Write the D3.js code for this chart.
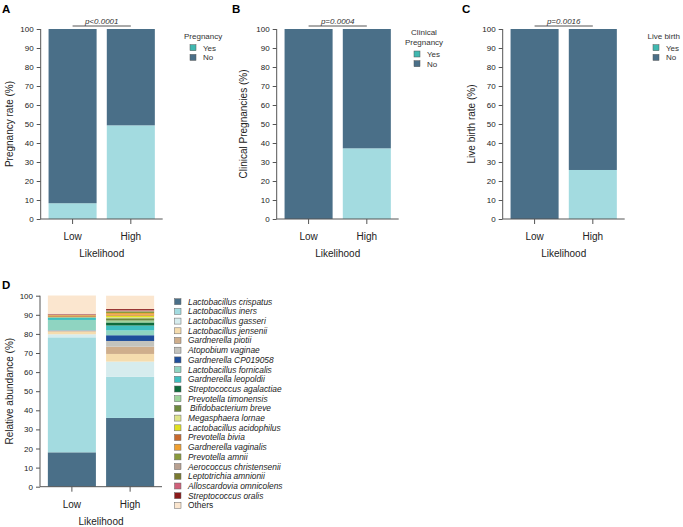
<!DOCTYPE html>
<html><head><meta charset="utf-8">
<script src="https://cdn.jsdelivr.net/npm/d3@7"></script>
<style>body{margin:0;background:#fff}svg{display:block;font-family:"Liberation Sans",Arial,sans-serif}</style>
</head><body>
<svg id="c" width="683" height="527"></svg>
<script>
const likelihood = ["Low", "High"];
const yTicks = [0, 10, 20, 30, 40, 50, 60, 70, 80, 90, 100];
const pregnancyYes = [8.3, 49.3];
const clinicalYes = [0, 37.2];
const liveBirthYes = [0, 25.8];
const outcomeKeys = ["Yes", "No"];
const species = ["Lactobacillus crispatus","Lactobacillus iners","Lactobacillus gasseri","Lactobacillus jensenii","Gardnerella piotii","Atopobium vaginae","Gardnerella CP019058","Lactobacillus fornicalis","Gardnerella leopoldii","Streptococcus agalactiae","Prevotella timonensis","Bifidobacterium breve","Megasphaera lornae","Lactobacillus acidophilus","Prevotella bivia","Gardnerella vaginalis","Prevotella amnii","Aerococcus christensenii","Leptotrichia amnionii","Alloscardovia omnicolens","Streptococcus oralis","Others"];
const abundanceLow  = [18.0, 60.2, 1.6, 1.4, 0.3, 0.3, 0.1, 5.4, 1.1, 0.1, 0.2, 0.1, 0.1, 0.1, 0.5, 0.3, 0.1, 0.1, 0.1, 0.2, 0.2, 9.6];
const abundanceHigh = [36.0, 21.5, 8.0, 4.0, 3.8, 3.0, 3.0, 2.5, 2.6, 1.6, 1.0, 1.2, 0.6, 0.8, 0.5, 0.8, 0.6, 0.3, 0.4, 0.3, 0.5, 7.0];
const speciesColors = ["#4a6f88","#a3dbe0","#d6ecee","#f5dcae","#cfae8c","#c3c3bd","#1f4e9b","#8fd4c1","#3fbfbf","#0f6b3b","#9fd49b","#6e8a3e","#dfe58a","#e0e020","#c8692d","#f0a030","#8a9a3c","#b8a090","#7a7a30","#d0607a","#8b1a1a","#fbe6cf"];
const outcomeColors = {Yes: "#a3dbe0", No: "#4a6f88"};

const svg = d3.select("#c");
const axisCol = "#555";

function panel(opt) {
  const g = svg.append("g");
  const x = d3.scaleBand().domain(likelihood).range([opt.x0, opt.x0 + 122]).paddingInner(0.175).paddingOuter(0.135);
  const y = d3.scaleLinear().domain([0, 100]).range([opt.yb, opt.yt]);
  // stacks
  const rows = likelihood.map((l, i) => {
    const r = {cat: l};
    opt.keys.forEach((k, j) => r[k] = opt.values[j][i]);
    return r;
  });
  const stack = d3.stack().keys(opt.keys)(rows);
  stack.forEach((layer, j) => {
    g.selectAll(null).data(layer).join("rect")
      .attr("x", d => x(d.data.cat)).attr("width", x.bandwidth())
      .attr("y", d => y(d[1])).attr("height", d => Math.max(0, y(d[0]) - y(d[1])))
      .attr("fill", opt.colors[j]);
  });
  const ya = g.append("g").attr("transform", `translate(${opt.x0},0)`)
    .call(d3.axisLeft(y).tickValues(yTicks).tickSize(4).tickPadding(3));
  const xa = g.append("g").attr("transform", `translate(0,${opt.yb})`)
    .call(d3.axisBottom(x).tickSize(5).tickPadding(9));
  [ya, xa].forEach(a => {
    a.selectAll("path,line").attr("stroke", axisCol).attr("stroke-width", 1);
    a.select(".domain").attr("d", null);
  });
  ya.append("line").attr("y1", y(0)).attr("y2", y(100)).attr("stroke", axisCol);
  xa.append("line").attr("x1", opt.x0).attr("x2", opt.x0 + 122).attr("stroke", axisCol);
  ya.selectAll("text").attr("font-size", 8).attr("fill", "#222").attr("font-family", null);
  xa.selectAll("text").attr("font-size", 10).attr("fill", "#222").attr("font-family", null);
  g.append("text").attr("x", opt.x0 + 61).attr("y", opt.yb + 38).attr("text-anchor", "middle")
    .attr("font-size", 10).attr("fill", "#222").text("Likelihood");
  g.append("text").attr("transform", `translate(${opt.ylx},${(opt.yt + opt.yb) / 2}) rotate(-90)`)
    .attr("text-anchor", "middle").attr("dy", "0.35em").attr("font-size", 10).attr("fill", "#222").text(opt.ylabel);
  g.append("text").attr("x", opt.lx).attr("y", opt.ly).attr("font-size", 11.5).attr("font-weight", "bold").text(opt.letter);
  if (opt.p) {
    const xl = x("Low") + x.bandwidth() / 2, xh = x("High") + x.bandwidth() / 2;
    g.append("line").attr("x1", xl).attr("x2", xh).attr("y1", opt.yt - 3).attr("y2", opt.yt - 3).attr("stroke", axisCol);
    g.append("text").attr("x", (xl + xh) / 2).attr("y", opt.yt - 5).attr("text-anchor", "middle")
      .attr("font-size", 8).attr("font-style", "italic").attr("fill", "#333").text(opt.p);
  }
  return g;
}

function outcomeLegend(title, tx, ty, sx, rowY, anchor) {
  const g = svg.append("g");
  title.forEach((t, i) => g.append("text").attr("x", tx).attr("y", ty + i * 10).attr("text-anchor", anchor)
    .attr("font-size", 8).attr("fill", "#333").text(t));
  [["Yes", "#40b8b0"], ["No", "#4a6f88"]].forEach((d, i) => {
    g.append("rect").attr("x", sx - 3).attr("y", rowY + i * 9.7 - 3).attr("width", 6).attr("height", 6)
      .attr("fill", d[1]).attr("stroke", "#555").attr("stroke-width", 0.5);
    g.append("text").attr("x", sx + 10).attr("y", rowY + i * 9.7).attr("dy", "0.35em")
      .attr("font-size", 8).attr("fill", "#333").text(d[0]);
  });
}

const inv = v => v.map(d => 100 - d);
panel({x0: 40.7, yt: 29, yb: 219, keys: outcomeKeys, values: [pregnancyYes, inv(pregnancyYes)], colors: [outcomeColors.Yes, outcomeColors.No],
  ylabel: "Pregnancy rate (%)", ylx: 9, letter: "A", lx: 2, ly: 13, p: "p<0.0001"});
outcomeLegend(["Pregnancy"], 184, 38.5, 193, 47.7, "start");
panel({x0: 276.7, yt: 29, yb: 219, keys: outcomeKeys, values: [clinicalYes, inv(clinicalYes)], colors: [outcomeColors.Yes, outcomeColors.No],
  ylabel: "Clinical Pregnancies (%)", ylx: 243, letter: "B", lx: 232, ly: 13, p: "p=0.0004"});
outcomeLegend(["Clinical", "Pregnancy"], 424, 34.5, 417, 54, "middle");
panel({x0: 502.7, yt: 29, yb: 219, keys: outcomeKeys, values: [liveBirthYes, inv(liveBirthYes)], colors: [outcomeColors.Yes, outcomeColors.No],
  ylabel: "Live birth rate (%)", ylx: 471, letter: "C", lx: 462, ly: 13, p: "p=0.0016"});
outcomeLegend(["Live birth"], 647.5, 38.5, 656, 47.7, "start");

const dVals = species.map((s, j) => [abundanceLow[j], abundanceHigh[j]]);
panel({x0: 40, yt: 295.7, yb: 486.7, keys: species, values: dVals, colors: speciesColors,
  ylabel: "Relative abundance (%)", ylx: 9, letter: "D", lx: 2, ly: 289, p: null});

const lg = svg.append("g");
species.forEach((s, i) => {
  const yy = 301.7 + i * 9.7;
  lg.append("rect").attr("x", 174.5).attr("y", yy - 3).attr("width", 6.5).attr("height", 6)
    .attr("fill", speciesColors[i]).attr("stroke", "#666").attr("stroke-width", 0.5);
  lg.append("text").attr("x", s === "Bifidobacterium breve" ? 190 : 188).attr("y", yy).attr("dy", "0.35em")
    .attr("font-size", 8.4).attr("font-style", s === "Others" ? "normal" : "italic").attr("fill", "#222").text(s);
});
</script>
</body></html>
